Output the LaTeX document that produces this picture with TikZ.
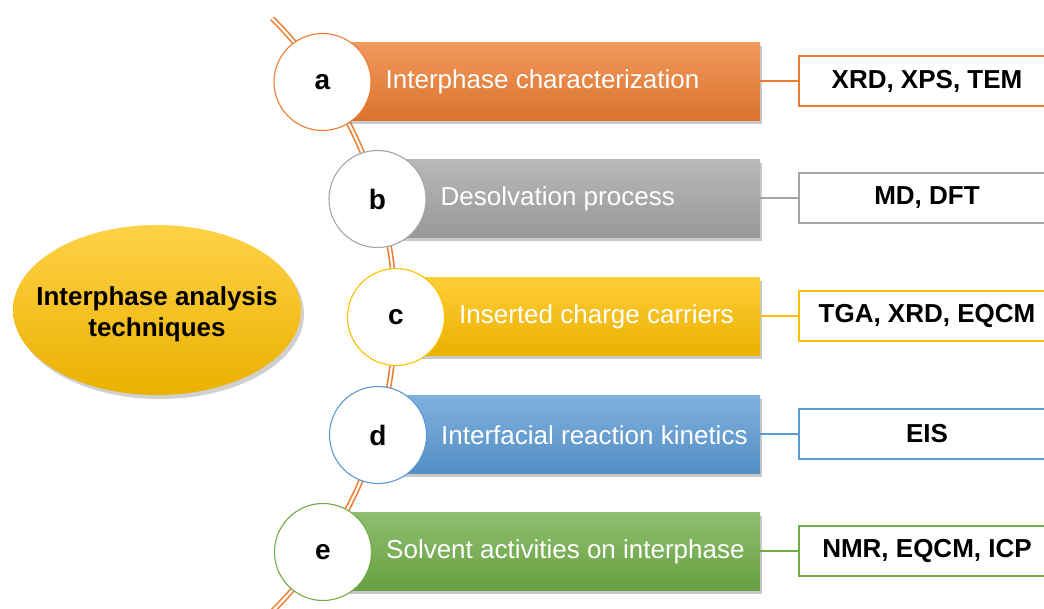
\documentclass[tikz,border=0pt]{standalone}
\usepackage{fontspec}
\setmainfont{Liberation Sans}
\usetikzlibrary{shadows,shapes.geometric}
\definecolor{cOrange}{HTML}{ED7D31}
\definecolor{cGray}{HTML}{A5A5A5}
\definecolor{cGold}{HTML}{FFC000}
\definecolor{cBlue}{HTML}{5B9BD5}
\definecolor{cGreen}{HTML}{70AD47}
\tikzset{
  spine/.style={draw=cOrange, line width=1.6pt, double=white, double distance=2.2pt},
  bar/.style={rectangle, draw=none, minimum height=78pt, inner sep=0pt,
    top color=#1!78!white, bottom color=#1!92!black,
    drop shadow={shadow xshift=2pt, shadow yshift=-4pt, opacity=0.35, fill=black!60}},
  badge/.style={circle, draw=#1, line width=1.1pt, fill=white, minimum size=97pt, inner sep=0pt,
    font=\fontsize{28}{32}\selectfont\bfseries},
  label/.style={text=white, anchor=west, inner sep=0pt, font=\fontsize{26}{30}\selectfont},
  method/.style={rectangle, draw=#1, line width=1.8pt, fill=white, minimum width=256pt,
    minimum height=50pt, inner sep=0pt, font=\fontsize{26}{30}\selectfont\bfseries},
  link/.style={draw=#1, line width=1.8pt},
  hub/.style={ellipse, minimum width=288pt, minimum height=170pt, inner sep=0pt,
    top color=cGold!72!white, bottom color=cGold!92!black,
    drop shadow={shadow xshift=3pt, shadow yshift=-4pt, opacity=0.3, fill=black!60}},
  hubtext/.style={align=center, inner sep=0pt, font=\fontsize{26}{31}\selectfont\bfseries}
}
\begin{document}
\begin{tikzpicture}[x=1pt,y=-1pt]
  \useasboundingbox (0,0) rectangle (1044,608);
  \clip (0,0) rectangle (1044,608);
  \fill[white] (0,0) rectangle (1044,608);

  % central topic
  \node[hub] (hub) at (157,310) {};
  \node[hubtext] (hubt) at (157,314) {Interphase analysis\\techniques};

  % curved double spine through the letter badges
  \coordinate (arcc) at (-24.5,315);
  \draw[spine] (arcc) ++(-45:419.5) arc[start angle=-45, end angle=52, radius=419.5];

  % rows: coloured bar, letter badge, method box
  \foreach \n/\cx/\cy/\col/\txt/\meth in {
      a/322.5/81/cOrange/Interphase characterization/{XRD, XPS, TEM},
      b/377.5/198/cGray/Desolvation process/{MD, DFT},
      c/396/316/cGold/Inserted charge carriers/{TGA, XRD, EQCM},
      d/378/434/cBlue/Interfacial reaction kinetics/EIS,
      e/323/551/cGreen/Solvent activities on interphase/{NMR, EQCM, ICP}}{
    \pgfmathsetmacro{\bw}{760-\cx}
    \node[bar=\col, minimum width=\bw pt, anchor=west] (bar\n) at (\cx,\cy) {};
    \node[badge=\col] (badge\n) at (\cx,\cy+1) {\n};
    \node[label] (lab\n) at (\cx+63,\cy+1) {\txt};
    \node[method=\col] (meth\n) at (927,\cy) {\meth};
    \draw[link=\col] (bar\n.east) -- (meth\n.west);
  }
\end{tikzpicture}
\end{document}
